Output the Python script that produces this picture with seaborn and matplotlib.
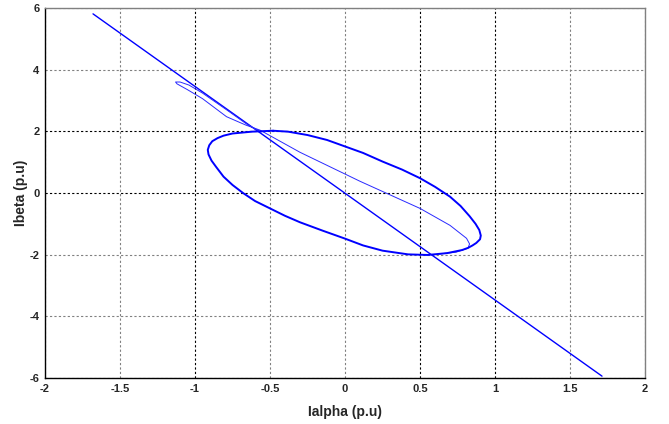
import matplotlib
matplotlib.use('Agg')
import matplotlib.pyplot as plt
import pandas as pd
import seaborn as sns

sns.set_style('white')
plt.rcParams['font.family'] = ['Liberation Sans Narrow', 'Liberation Sans', 'DejaVu Sans']

# straight transient line (end points)
line_x = [-1.68, 1.713]
line_y = [5.81, -5.94]

# thin loop: up along the line, round the tip, down through the ellipse
loop_x = [-0.56, -0.66, -0.79, -0.95, -1.04, -1.10, -1.13, -1.12, -1.05, -0.95,
          -0.79, -0.66, -0.567, -0.30, 0.10, 0.50, 0.70, 0.81, 0.83, 0.82, 0.74, 0.62]
loop_y = [1.97, 2.25, 2.70, 3.24, 3.50, 3.60, 3.60, 3.54, 3.35, 3.06,
          2.475, 2.20, 2.04, 1.32, 0.38, -0.50, -1.05, -1.47, -1.65, -1.79, -1.92, -1.98]

# steady-state ellipse, clockwise from the top
ell_x = [-0.48, -0.38, -0.25, -0.12, 0.00, 0.12, 0.25, 0.38, 0.50, 0.60,
         0.70, 0.77, 0.83, 0.87, 0.895, 0.905, 0.90, 0.875, 0.85, 0.82,
         0.78, 0.68, 0.55, 0.42, 0.25, 0.12, 0.00, -0.15, -0.30, -0.40,
         -0.50, -0.60, -0.68, -0.75, -0.81, -0.86, -0.89, -0.91, -0.915, -0.905,
         -0.885, -0.85, -0.81, -0.75, -0.62, -0.48]
ell_y = [2.02, 1.99, 1.88, 1.72, 1.51, 1.30, 1.02, 0.76, 0.48, 0.20,
         -0.12, -0.42, -0.75, -1.00, -1.20, -1.38, -1.50, -1.62, -1.70, -1.78,
         -1.85, -1.95, -2.01, -1.99, -1.87, -1.70, -1.48, -1.22, -0.95, -0.74,
         -0.50, -0.26, 0.00, 0.26, 0.53, 0.85, 1.05, 1.25, 1.40, 1.55,
         1.68, 1.78, 1.86, 1.93, 1.99, 2.02]

x_ticks = [-2, -1.5, -1, -0.5, 0, 0.5, 1, 1.5, 2]
y_ticks = [-6, -4, -2, 0, 2, 4, 6]

fig = plt.figure(figsize=(6.69, 4.24), dpi=100)
ax = fig.add_axes([0.0673, 0.1085, 0.8969, 0.8726])

sns.lineplot(x=line_x, y=line_y, sort=False, estimator=None, color='#0000ff', lw=1.0, ax=ax)
sns.lineplot(x=loop_x, y=loop_y, sort=False, estimator=None, color='#2a2aff', lw=0.7, ax=ax)
sns.lineplot(x=ell_x, y=ell_y, sort=False, estimator=None, color='#0000ff', lw=1.4, ax=ax)

ax.set_xlim(-2, 2)
ax.set_ylim(-6, 6)
ax.set_xticks(x_ticks)
ax.set_yticks(y_ticks)
ax.set_xticklabels([f'{t:g}' for t in x_ticks])
ax.set_yticklabels([f'{t:g}' for t in y_ticks])
ax.tick_params(length=0, labelsize=8, pad=4)
for lab in ax.get_xticklabels() + ax.get_yticklabels():
    lab.set_fontweight('bold')

ax.grid(True, linestyle=(0, (2, 2)), color='#808080', lw=0.8)
dark_x = [-1, 0.5, 1]
dark_y = [0, 2]
for t, gl in zip(x_ticks, ax.get_xgridlines()):
    if t in dark_x:
        gl.set_color('black')
for t, gl in zip(y_ticks, ax.get_ygridlines()):
    if t in dark_y:
        gl.set_color('black')

for side in ['left', 'bottom']:
    ax.spines[side].set_color('black')
for side in ['top', 'right']:
    ax.spines[side].set_color('#808080')
for sp in ax.spines.values():
    sp.set_linewidth(1.0)

ax.set_xlabel('Ialpha (p.u)', fontsize=10, fontweight='bold', family=['Liberation Sans', 'DejaVu Sans'], labelpad=8)
ax.set_ylabel('Ibeta (p.u)', fontsize=10, fontweight='bold', family=['Liberation Sans', 'DejaVu Sans'], labelpad=1)

fig.savefig('out.png', dpi=100)
